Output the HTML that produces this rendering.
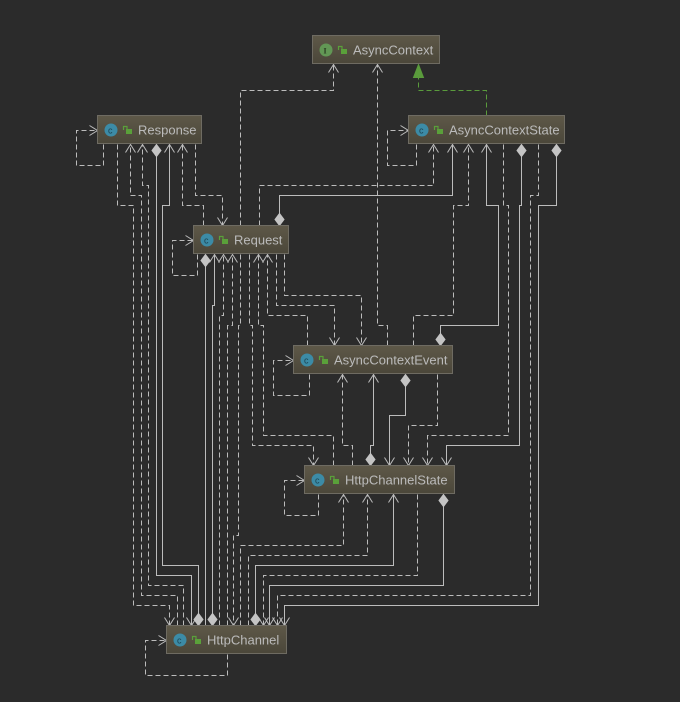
<!DOCTYPE html>
<html><head><meta charset="utf-8"><style>
html,body{margin:0;padding:0;background:#2b2b2b;}
svg{display:block;}
text{font-family:"Liberation Sans",sans-serif;font-size:13px;fill:#bbbbbb;}
</style></head><body>
<svg width="680" height="702" viewBox="0 0 680 702" xmlns="http://www.w3.org/2000/svg">
<defs>
<linearGradient id="bg" x1="0" y1="0" x2="0" y2="1">
<stop offset="0" stop-color="#5e5848"/><stop offset="1" stop-color="#4b473a"/>
</linearGradient>
</defs>
<rect width="680" height="702" fill="#2b2b2b"/>
<g transform="translate(0.5,0.5)" fill="none" stroke="#bcbcbc" stroke-width="1">
<!-- dashed lines -->
<g stroke-dasharray="5,3">
<polyline points="103,144 103,165 76,165 76,130 97,130"/>
<polyline points="197,254 197,275 172,275 172,240 193,240"/>
<polyline points="416,144 416,165 387,165 387,130 408,130"/>
<polyline points="309,374 309,395 273,395 273,360 293,360"/>
<polyline points="318,494 318,515 284,515 284,480 304,480"/>
<polyline points="227,654 227,675 145,675 145,640 166,640"/>
<polyline points="240,225 240,90 333,90 333,64"/>
<polyline points="387,345 387,325 377,325 377,64"/>
<polyline points="117,144 117,205 133,205 133,605 169,605 169,625"/>
<polyline points="177,625 177,595 141,595 141,195 130,195 130,144"/>
<polyline points="183,625 183,585 148,585 148,185 142,185 142,144"/>
<polyline points="203,225 203,205 182,205 182,144"/>
<polyline points="195,144 195,195 222,195 222,225"/>
<polyline points="259,225 259,185 433,185 433,144"/>
<polyline points="413,345 413,315 453,315 453,205 468,205 468,144"/>
<polyline points="503,144 503,205 508,205 508,435 427,435 427,465"/>
<polyline points="538,144 538,195 530,195 530,595 277,595 277,625"/>
<polyline points="219,625 219,315 223,315 223,254"/>
<polyline points="227,625 227,325 232,325 232,254"/>
<polyline points="240,254 240,325 238,325 238,535 233,535 233,625"/>
<polyline points="249,254 249,325 252,325 252,445 313,445 313,465"/>
<polyline points="333,465 333,435 263,435 263,325 258,325 258,254"/>
<polyline points="307,345 307,315 267,315 267,254"/>
<polyline points="276,254 276,305 334,305 334,345"/>
<polyline points="284,254 284,295 361,295 361,345"/>
<polyline points="352,465 352,445 342,445 342,374"/>
<polyline points="437,374 437,425 408,425 408,465"/>
<polyline points="240,625 240,545 343,545 343,494"/>
<polyline points="248,625 248,555 367,555 367,494"/>
<polyline points="417,494 417,575 263,575 263,625"/>
</g>
<!-- solid lines -->
<polyline points="156,156 156,575 191,575 191,625"/>
<polyline points="198,613 198,565 162,565 162,205 169,205 169,144"/>
<polyline points="279,213 279,195 452,195 452,144"/>
<polyline points="440,333 440,325 498,325 498,205 486,205 486,144"/>
<polyline points="521,156 521,205 519,205 519,445 446,445 446,465"/>
<polyline points="556,156 556,205 538,205 538,605 284,605 284,625"/>
<polyline points="205,266 205,625"/>
<polyline points="212,613 212,305 214,305 214,254"/>
<polyline points="370,453 370,445 373,445 373,374"/>
<polyline points="405,386 405,415 389,415 389,465"/>
<polyline points="255,613 255,565 393,565 393,494"/>
<polyline points="443,506 443,585 269,585 269,625"/>
<!-- green realization -->
<polyline points="486,115 486,90 418,90 418,77" stroke="#5a9b3c" stroke-dasharray="5,3"/>
<!-- open arrowheads -->
<g>
<!-- right -->
<polyline points="89,125 97,130 89,135"/>
<polyline points="185,235 193,240 185,245"/>
<polyline points="400,125 408,130 400,135"/>
<polyline points="285,355 293,360 285,365"/>
<polyline points="296,475 304,480 296,485"/>
<polyline points="158,635 166,640 158,645"/>
<!-- up -->
<polyline points="328,72 333,64 338,72"/>
<polyline points="372,72 377,64 382,72"/>
<polyline points="125,152 130,144 135,152"/>
<polyline points="137,152 142,144 147,152"/>
<polyline points="164,152 169,144 174,152"/>
<polyline points="177,152 182,144 187,152"/>
<polyline points="428,152 433,144 438,152"/>
<polyline points="447,152 452,144 457,152"/>
<polyline points="463,152 468,144 473,152"/>
<polyline points="481,152 486,144 491,152"/>
<polyline points="209,262 214,254 219,262"/>
<polyline points="218,262 223,254 228,262"/>
<polyline points="227,262 232,254 237,262"/>
<polyline points="253,262 258,254 263,262"/>
<polyline points="262,262 267,254 272,262"/>
<polyline points="337,382 342,374 347,382"/>
<polyline points="368,382 373,374 378,382"/>
<polyline points="338,502 343,494 348,502"/>
<polyline points="362,502 367,494 372,502"/>
<polyline points="388,502 393,494 398,502"/>
<!-- down -->
<polyline points="217,217 222,225 227,217"/>
<polyline points="329,337 334,345 339,337"/>
<polyline points="356,337 361,345 366,337"/>
<polyline points="308,457 313,465 318,457"/>
<polyline points="384,457 389,465 394,457"/>
<polyline points="403,457 408,465 413,457"/>
<polyline points="422,457 427,465 432,457"/>
<polyline points="441,457 446,465 451,457"/>
<polyline points="164,617 169,625 174,617"/>
<polyline points="186,617 191,625 196,617"/>
<polyline points="228,617 233,625 238,617"/>
<polyline points="258,617 263,625 268,617"/>
<polyline points="264,617 269,625 274,617"/>
<polyline points="272,617 277,625 282,617"/>
<polyline points="279,617 284,625 289,617"/>
</g>
<!-- diamonds -->
<g fill="#c4c4c4" stroke="#c4c4c4">
<polygon points="156,144 160.5,150 156,156 151.5,150"/>
<polygon points="198,625 202.5,619 198,613 193.5,619"/>
<polygon points="212,625 216.5,619 212,613 207.5,619"/>
<polygon points="255,625 259.5,619 255,613 250.5,619"/>
<polygon points="279,225 283.5,219 279,213 274.5,219"/>
<polygon points="440,345 444.5,339 440,333 435.5,339"/>
<polygon points="521,144 525.5,150 521,156 516.5,150"/>
<polygon points="556,144 560.5,150 556,156 551.5,150"/>
<polygon points="205,254 209.5,260 205,266 200.5,260"/>
<polygon points="370,465 374.5,459 370,453 365.5,459"/>
<polygon points="405,374 409.5,380 405,386 400.5,380"/>
<polygon points="443,494 447.5,500 443,506 438.5,500"/>
</g>
<polygon points="418,64 413,77 423,77" fill="#5a9b3c" stroke="#5a9b3c"/>
</g>

<!-- nodes -->
<g>
<!-- AsyncContext -->
<rect x="312.5" y="35.5" width="127" height="28" fill="url(#bg)" stroke="#6e6b62"/>
<circle cx="326" cy="50" r="6.5" fill="#629755"/>
<text x="323.5" y="53.5" style="font-size:8px;fill:#2b3a22;font-family:'Liberation Serif',serif;font-weight:bold">I</text>
<g fill="#5aa03a"><rect x="341" y="49" width="6" height="5"/><path d="M338.5 50 V46.5 H342 V49" fill="none" stroke="#5aa03a" stroke-width="1.2"/></g>
<text x="353" y="54.5">AsyncContext</text>

<!-- Response -->
<rect x="97.5" y="115.5" width="104" height="28" fill="url(#bg)" stroke="#6e6b62"/>
<circle cx="111" cy="130" r="6.5" fill="#3c8ba6"/>
<text x="108" y="133.5" style="font-size:9px;fill:#1d4452">c</text>
<g fill="#5aa03a"><rect x="126" y="129" width="6" height="5"/><path d="M123.5 130 V126.5 H127 V129" fill="none" stroke="#5aa03a" stroke-width="1.2"/></g>
<text x="138" y="134.5">Response</text>

<!-- Request -->
<rect x="193.5" y="225.5" width="95" height="28" fill="url(#bg)" stroke="#6e6b62"/>
<circle cx="207" cy="240" r="6.5" fill="#3c8ba6"/>
<text x="204" y="243.5" style="font-size:9px;fill:#1d4452">c</text>
<g fill="#5aa03a"><rect x="222" y="239" width="6" height="5"/><path d="M219.5 240 V236.5 H223 V239" fill="none" stroke="#5aa03a" stroke-width="1.2"/></g>
<text x="234" y="244.5">Request</text>

<!-- AsyncContextState -->
<rect x="408.5" y="115.5" width="156" height="28" fill="url(#bg)" stroke="#6e6b62"/>
<circle cx="422" cy="130" r="6.5" fill="#3c8ba6"/>
<text x="419" y="133.5" style="font-size:9px;fill:#1d4452">c</text>
<g fill="#5aa03a"><rect x="437" y="129" width="6" height="5"/><path d="M434.5 130 V126.5 H438 V129" fill="none" stroke="#5aa03a" stroke-width="1.2"/></g>
<text x="449" y="134.5">AsyncContextState</text>

<!-- AsyncContextEvent -->
<rect x="293.5" y="345.5" width="159" height="28" fill="url(#bg)" stroke="#6e6b62"/>
<circle cx="307" cy="360" r="6.5" fill="#3c8ba6"/>
<text x="304" y="363.5" style="font-size:9px;fill:#1d4452">c</text>
<g fill="#5aa03a"><rect x="322" y="359" width="6" height="5"/><path d="M319.5 360 V356.5 H323 V359" fill="none" stroke="#5aa03a" stroke-width="1.2"/></g>
<text x="334" y="364.5">AsyncContextEvent</text>

<!-- HttpChannelState -->
<rect x="304.5" y="465.5" width="150" height="28" fill="url(#bg)" stroke="#6e6b62"/>
<circle cx="318" cy="480" r="6.5" fill="#3c8ba6"/>
<text x="315" y="483.5" style="font-size:9px;fill:#1d4452">c</text>
<g fill="#5aa03a"><rect x="333" y="479" width="6" height="5"/><path d="M330.5 480 V476.5 H334 V479" fill="none" stroke="#5aa03a" stroke-width="1.2"/></g>
<text x="345" y="484.5">HttpChannelState</text>

<!-- HttpChannel -->
<rect x="166.5" y="625.5" width="120" height="28" fill="url(#bg)" stroke="#6e6b62"/>
<circle cx="180" cy="640" r="6.5" fill="#3c8ba6"/>
<text x="177" y="643.5" style="font-size:9px;fill:#1d4452">c</text>
<g fill="#5aa03a"><rect x="195" y="639" width="6" height="5"/><path d="M192.5 640 V636.5 H196 V639" fill="none" stroke="#5aa03a" stroke-width="1.2"/></g>
<text x="207" y="644.5">HttpChannel</text>
</g>
</svg>
</body></html>
